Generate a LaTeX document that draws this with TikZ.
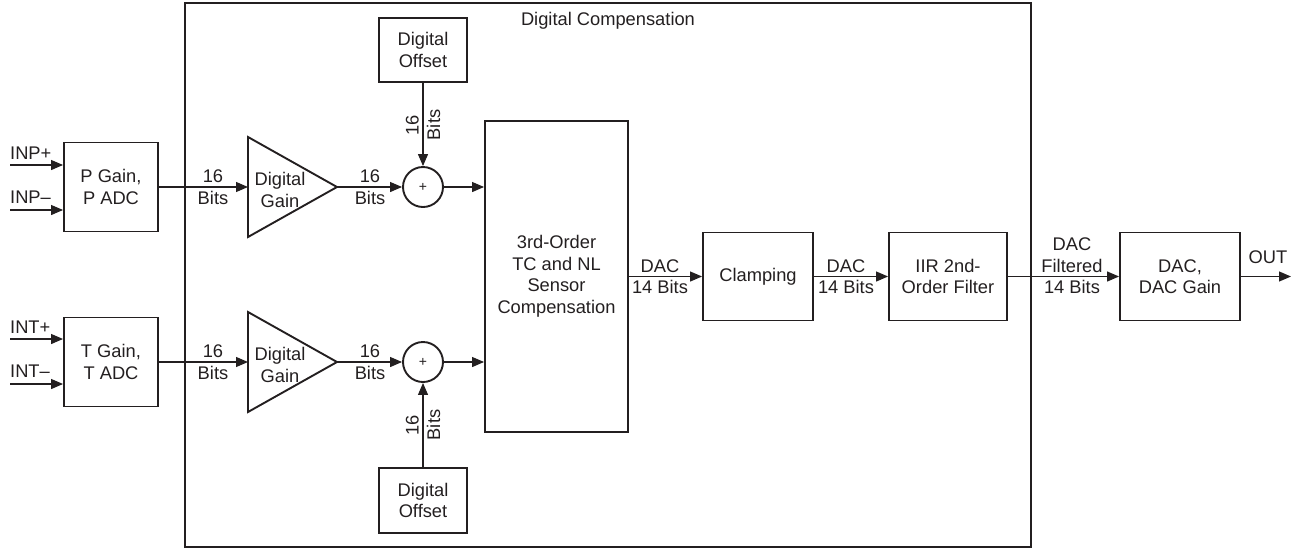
\documentclass[tikz,border=0pt]{standalone}
\usepackage{fontspec}
\setmainfont{Liberation Sans}
\usetikzlibrary{arrows.meta}
\definecolor{ink}{RGB}{35,31,32}
\begin{document}
\begin{tikzpicture}[x=1pt,y=-1pt,
  font=\fontsize{18.3}{21.5}\selectfont,
  every node/.style={text=ink},
  blk/.style={draw=ink, line width=1.9pt, inner sep=0, align=center},
  sumnode/.style={draw=ink, circle, line width=1.9pt, minimum size=40pt, inner sep=0, font=\fontsize{14}{16}\selectfont},
  conn/.style={draw=ink, line width=1.2pt, -{Triangle[length=12pt,width=10pt]}},
  lbl/.style={align=center, inner sep=0}]
\useasboundingbox (0,0) rectangle (1294,550);

% outer box
\node[blk, minimum width=846pt, minimum height=544pt] (dc) at (608,275) {};
\node[lbl] (dctitle) at (608,21) {Digital Compensation};

% blocks
\node[blk, minimum width=94pt, minimum height=89pt] (pb) at (111,187) {P Gain,\\P ADC};
\node[blk, minimum width=94pt, minimum height=89pt] (tb) at (111,362) {T Gain,\\T ADC};
\node[blk, minimum width=88pt, minimum height=64pt] (off1) at (423,50) {Digital\\Offset};
\node[blk, minimum width=88pt, minimum height=65pt] (off2) at (423,500.5) {Digital\\Offset};
\node[blk, minimum width=143pt, minimum height=311pt] (comp) at (556.5,276.5) {3rd-Order\\TC and NL\\Sensor\\Compensation};
\node[blk, minimum width=110pt, minimum height=88pt] (clamp) at (758,276.5) {Clamping};
\node[blk, minimum width=118pt, minimum height=88pt] (iir) at (948,276.5) {IIR 2nd-\\Order Filter};
\node[blk, minimum width=120pt, minimum height=88pt] (dac) at (1180,276.5) {DAC,\\DAC Gain};

% gain triangles
\coordinate (g1in) at (248,187);
\coordinate (g1out) at (337,187);
\coordinate (g2in) at (248,362);
\coordinate (g2out) at (337,362);
\draw[ink, line width=1.9pt, line join=miter] (248,137) -- (g1out) -- (248,237) -- cycle;
\draw[ink, line width=1.9pt, line join=miter] (248,312) -- (g2out) -- (248,412) -- cycle;
\node[lbl] (g1txt) at (280,190) {Digital\\Gain};
\node[lbl] (g2txt) at (280,365) {Digital\\Gain};

% summing junctions
\node[sumnode] (s1) at (423,187) {+};
\node[sumnode] (s2) at (423,362) {+};

% inputs
\coordinate (inp1) at (10,165);
\coordinate (inp2) at (10,210);
\coordinate (int1) at (10,339);
\coordinate (int2) at (10,384);
\draw[conn] (inp1) -- (inp1 -| pb.west);
\draw[conn] (inp2) -- (inp2 -| pb.west);
\draw[conn] (int1) -- (int1 -| tb.west);
\draw[conn] (int2) -- (int2 -| tb.west);
\node[anchor=base west, inner sep=0] (linp1) at (10,159) {INP+};
\node[anchor=base west, inner sep=0] (linp2) at (10,203) {INP\textendash};
\node[anchor=base west, inner sep=0] (lint1) at (10,333) {INT+};
\node[anchor=base west, inner sep=0] (lint2) at (10,377) {INT\textendash};

% upper path
\draw[conn] (pb.east) -- (g1in);
\draw[conn] (g1out) -- (s1.west);
\draw[conn] (s1.east) -- (s1 -| comp.west);
\draw[conn] (off1.south) -- (s1.north);
\node[lbl] (l1) at (213,187) {16\\Bits};
\node[lbl] (l2) at (370,187) {16\\Bits};
\node[lbl, rotate=90] (l3) at (423,125) {16\\Bits};

% lower path
\draw[conn] (tb.east) -- (g2in);
\draw[conn] (g2out) -- (s2.west);
\draw[conn] (s2.east) -- (s2 -| comp.west);
\draw[conn] (off2.north) -- (s2.south);
\node[lbl] (l4) at (213,362) {16\\Bits};
\node[lbl] (l5) at (370,362) {16\\Bits};
\node[lbl, rotate=90] (l6) at (423,425) {16\\Bits};

% main chain
\draw[conn] (comp.east) -- (clamp.west);
\draw[conn] (clamp.east) -- (iir.west);
\draw[conn] (iir.east) -- (dac.west);
\coordinate (out) at (1291,276.5);
\draw[conn] (dac.east) -- (out);
\node[lbl] (l7) at (660,276.5) {DAC\\14 Bits};
\node[lbl] (l8) at (846,276.5) {DAC\\14 Bits};
\node[lbl] (l9) at (1072,266) {DAC\\Filtered\\14 Bits};
\node[anchor=base, inner sep=0] (lout) at (1268,263) {OUT};
\end{tikzpicture}
\end{document}
